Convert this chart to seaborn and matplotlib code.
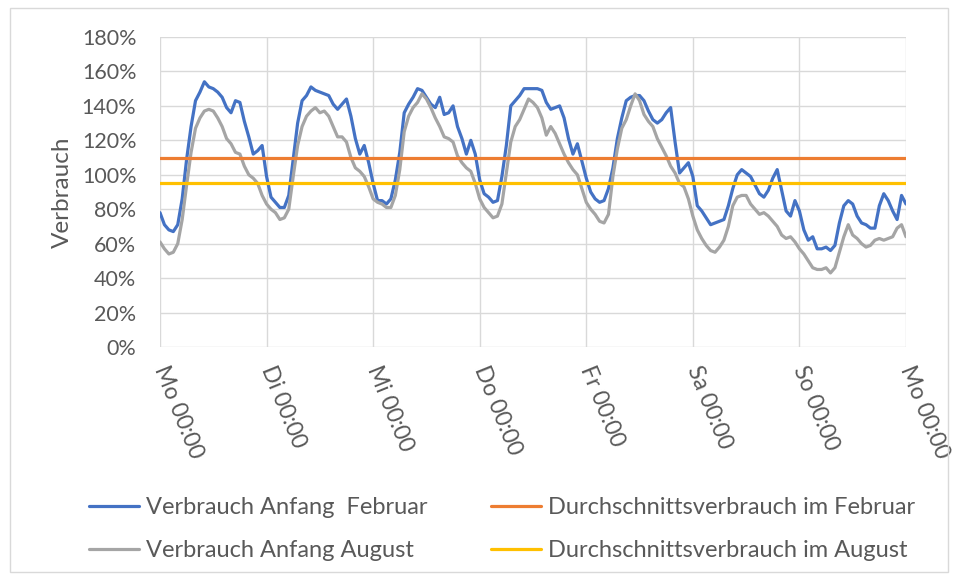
import numpy as np
import pandas as pd
import seaborn as sns
import matplotlib.pyplot as plt
from matplotlib.patches import Rectangle

# Verbrauch in %, stündlich von Mo 00:00 bis Mo 00:00
feb_mo = [78, 71, 68, 67, 71, 86, 109, 128, 143, 148, 154, 151, 150, 148, 145, 139, 136, 143, 142, 131, 122, 112, 114, 117]
feb_di = [99, 87, 84, 81, 81, 88, 109, 130, 143, 146, 151, 149, 148, 147, 146, 141, 138, 141, 144, 134, 121, 112, 117, 107]
feb_mi = [95, 85, 85, 83, 86, 97, 113, 136, 141, 145, 150, 149, 145, 141, 139, 145, 135, 136, 140, 128, 121, 112, 120, 112]
feb_do = [97, 89, 87, 84, 85, 99, 117, 140, 143, 146, 150, 150, 150, 150, 149, 142, 138, 139, 140, 133, 121, 112, 118, 108]
feb_fr = [98, 90, 86, 84, 85, 92, 104, 121, 133, 143, 145, 146, 146, 143, 137, 132, 130, 132, 136, 139, 119, 101, 104, 107]
feb_sa = [99, 82, 79, 75, 71, 72, 73, 74, 82, 92, 100, 103, 101, 99, 94, 89, 87, 91, 98, 103, 91, 79, 76, 85]
feb_so = [79, 68, 62, 64, 57, 57, 58, 56, 59, 72, 82, 85, 83, 76, 72, 71, 69, 69, 82, 89, 85, 79, 74, 88]
feb_end = [83]

aug_mo = [61, 57, 54, 55, 60, 74, 94, 113, 127, 133, 137, 138, 137, 133, 128, 121, 118, 113, 112, 105, 100, 98, 95, 88]
aug_di = [83, 80, 78, 74, 75, 80, 99, 117, 128, 134, 137, 139, 136, 137, 134, 128, 122, 122, 119, 110, 104, 102, 99, 93]
aug_mi = [86, 84, 83, 81, 81, 88, 103, 125, 134, 139, 142, 147, 144, 139, 133, 128, 122, 121, 119, 111, 107, 104, 102, 95]
aug_do = [86, 81, 78, 75, 76, 83, 101, 119, 128, 132, 138, 144, 142, 139, 133, 123, 128, 124, 118, 112, 107, 103, 100, 92]
aug_fr = [84, 80, 77, 73, 72, 77, 99, 115, 127, 132, 140, 147, 143, 135, 131, 128, 121, 116, 111, 105, 101, 95, 93, 86]
aug_sa = [76, 68, 63, 59, 56, 55, 58, 62, 70, 82, 87, 88, 88, 83, 80, 77, 78, 76, 73, 70, 65, 63, 64, 61]
aug_so = [57, 54, 50, 46, 45, 45, 46, 43, 46, 55, 64, 71, 65, 63, 60, 58, 59, 62, 63, 62, 63, 64, 69, 71]
aug_end = [64]

avg_feb = 109.5
avg_aug = 95
days = ["Mo", "Di", "Mi", "Do", "Fr", "Sa", "So", "Mo"]
y_ticks = [0, 20, 40, 60, 80, 100, 120, 140, 160, 180]

feb = feb_mo + feb_di + feb_mi + feb_do + feb_fr + feb_sa + feb_so + feb_end
aug = aug_mo + aug_di + aug_mi + aug_do + aug_fr + aug_sa + aug_so + aug_end
hours = np.arange(len(feb))

df = pd.DataFrame({"Stunde": hours, "feb": feb, "aug": aug})

sns.set_theme(style="white")
plt.rcParams['font.family'] = ['Lato', 'DejaVu Sans']

fig, ax = plt.subplots(figsize=(9.58, 5.78), dpi=100)
fig.subplots_adjust(left=0.167, right=0.9457, top=0.936, bottom=0.3997)

# Rahmen um das Diagramm
fig.patches.append(Rectangle((10 / 958, 6 / 578), 938 / 958, 564 / 578, transform=fig.transFigure,
                             fill=False, edgecolor="#D9D9D9", linewidth=1))

sns.lineplot(data=df, x="Stunde", y="feb", color="#4472C4", linewidth=2.3, ax=ax,
             label="Verbrauch Anfang  Februar", zorder=3)
ax.axhline(avg_feb, color="#ED7D31", linewidth=2.3, label="Durchschnittsverbrauch im Februar", zorder=4)
sns.lineplot(data=df, x="Stunde", y="aug", color="#A5A5A5", linewidth=2.3, ax=ax,
             label="Verbrauch Anfang August", zorder=3)
ax.axhline(avg_aug, color="#FFC000", linewidth=2.3, label="Durchschnittsverbrauch im August", zorder=4)

ax.set_xlim(0, 168)
ax.set_ylim(0, 180)
ax.set_xticks(np.arange(0, 169, 24))
ax.set_xticklabels([d + " 00:00" for d in days])
ax.set_yticks(y_ticks)
ax.set_yticklabels([f"{v}%" for v in y_ticks])
ax.grid(True, color="#D9D9D9", linewidth=1)
for s in ax.spines.values():
    s.set_visible(False)

ax.tick_params(axis="both", length=0, labelcolor="#595959")
ax.tick_params(axis="y", labelsize=15.5, pad=17)
ax.tick_params(axis="x", labelsize=16.5, pad=14)
for lbl in ax.get_xticklabels():
    lbl.set_rotation(-68)
    lbl.set_ha("left")
    lbl.set_va("center")
    lbl.set_rotation_mode("anchor")

ax.set_xlabel("")
ax.set_ylabel("Verbrauch", fontsize=17.5, color="#595959", labelpad=6)

handles, labels = ax.get_legend_handles_labels()
ax.get_legend().remove()
order = [0, 2, 1, 3]
fig.legend([handles[i] for i in order], [labels[i] for i in order], ncol=2,
           loc="upper left", bbox_to_anchor=(89 / 958, 1 - 497 / 578), frameon=False,
           fontsize=17, labelcolor="#595959", handlelength=2.1, handletextpad=0.3,
           columnspacing=2.7, labelspacing=0.95, borderpad=0, borderaxespad=0)

fig.savefig("out.png", dpi=100)
